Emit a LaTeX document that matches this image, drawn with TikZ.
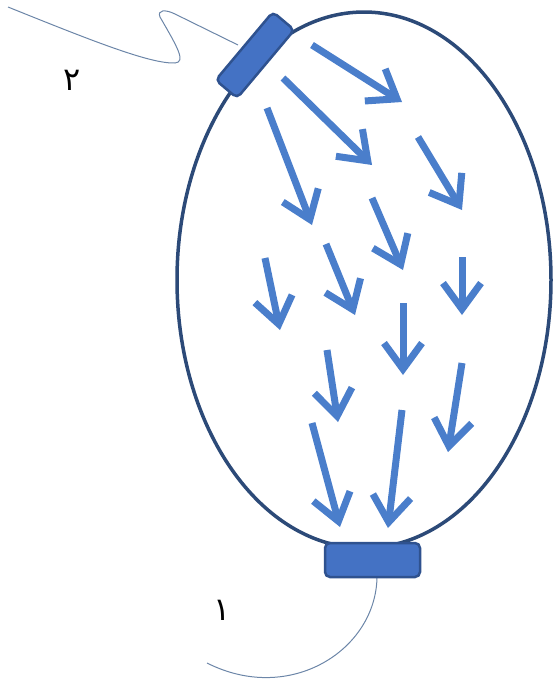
\documentclass[tikz,border=0pt]{standalone}
\usepackage{fontspec}
\usetikzlibrary{arrows.meta}
\TeXXeTstate=1
\newfontfamily\arabicfont[Script=Arabic]{DejaVu Sans}
\definecolor{outline}{HTML}{2C4A78}
\definecolor{flow}{HTML}{4A7ECB}
\definecolor{padfill}{HTML}{4472C4}
\definecolor{padedge}{HTML}{2F528F}
\definecolor{wire}{HTML}{6C86A8}
\tikzset{
  flowarrow/.style={draw=flow, line width=7pt, -{Straight Barb[length=26pt,width=38pt]}},
  pad/.style={draw=padedge, fill=padfill, line width=2.5pt, rounded corners=5pt, inner sep=0pt},
  wireline/.style={draw=wire, line width=1pt},
  digit/.style={font=\arabicfont\fontsize{32}{36}\selectfont, text=black, inner sep=0pt}
}
\begin{document}
\begin{tikzpicture}[x=1pt,y=-1pt]
\useasboundingbox (0,0) rectangle (558,686);
% balloon
\draw[outline, line width=3.5pt] (364,280) ellipse [x radius=187, y radius=268];
% wires
\coordinate (w2a) at (8,7);
\coordinate (w2b) at (238,45);
\draw[wireline] (w2a) .. controls (90,40) and (150,64) .. (175,63)
  .. controls (186,62) and (178,48) .. (160,17)
  .. controls (157,10) and (165,9) .. (175,14) -- (w2b);
\coordinate (w1a) at (377,577);
\coordinate (w1b) at (207,663);
\draw[wireline] (w1a) .. controls (376,650) and (290,705) .. (w1b);
% pads
\node[pad, minimum width=89pt, minimum height=28pt, rotate=50] (top) at (255,55) {};
\node[pad, minimum width=95pt, minimum height=34pt] (bottom) at (372.5,560) {};
% flow arrows
\draw[flowarrow] (312,45) -- (402,102);
\draw[flowarrow] (283,78) -- (372,165);
\draw[flowarrow] (267,108) -- (312,225);
\draw[flowarrow] (418,137) -- (462,210);
\draw[flowarrow] (372,198) -- (403,270);
\draw[flowarrow] (265,258) -- (280,330);
\draw[flowarrow] (326,244) -- (355,315);
\draw[flowarrow] (462,257) -- (462,315);
\draw[flowarrow] (403,303) -- (403,375);
\draw[flowarrow] (327,350) -- (338,422);
\draw[flowarrow] (462,363) -- (448,452);
\draw[flowarrow] (312,423) -- (340,527);
\draw[flowarrow] (402,410) -- (388,528);
% labels
\node[digit] (l2) at (72,80) {\beginR ۲\endR};
\node[digit] (l1) at (222,610) {\beginR ۱\endR};
\end{tikzpicture}
\end{document}
